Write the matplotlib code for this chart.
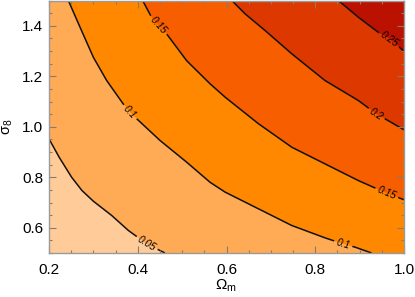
import numpy as np
import matplotlib
matplotlib.use("Agg")
import matplotlib.pyplot as plt
from matplotlib.ticker import MultipleLocator

plt.rcParams['font.family'] = ['Liberation Sans', 'DejaVu Sans']
plt.rcParams['mathtext.fontset'] = 'custom'
plt.rcParams['mathtext.rm'] = 'Liberation Sans'
plt.rcParams['mathtext.it'] = 'Liberation Sans'
plt.rcParams['mathtext.bf'] = 'Liberation Sans:bold'

# ---- data: contour levels and their line positions ----
levels = [0.05, 0.1, 0.15, 0.2, 0.25]
level_labels = ["0.05", "0.1", "0.15", "0.2", "0.25"]

om_05 = [0.200, 0.223, 0.251, 0.274, 0.300, 0.341, 0.379, 0.401, 0.420, 0.458, 0.461]
s8_05 = [0.952, 0.879, 0.800, 0.748, 0.705, 0.649, 0.589, 0.561, 0.536, 0.503, 0.500]

om_10 = [0.2436, 0.270, 0.300, 0.330, 0.367, 0.3825, 0.398, 0.450, 0.510, 0.563,
         0.597, 0.672, 0.747, 0.822, 0.863, 0.890, 0.927]
s8_10 = [1.500, 1.394, 1.275, 1.183, 1.091, 1.058, 1.031, 0.946, 0.860, 0.780,
         0.741, 0.675, 0.609, 0.560, 0.536, 0.523, 0.500]

om_15 = [0.411, 0.431, 0.446, 0.465, 0.510, 0.563, 0.597, 0.672, 0.747, 0.822,
         0.897, 0.961, 1.000]
s8_15 = [1.500, 1.434, 1.401, 1.368, 1.262, 1.170, 1.117, 1.012, 0.919, 0.853,
         0.787, 0.737, 0.711]

om_20 = [0.612, 0.642, 0.687, 0.747, 0.822, 0.897, 0.938, 1.000]
s8_20 = [1.500, 1.447, 1.381, 1.289, 1.183, 1.104, 1.051, 0.988]

om_25 = [0.852, 0.897, 0.942, 0.968, 1.000]
s8_25 = [1.500, 1.434, 1.374, 1.348, 1.299]

lines_om = [om_05, om_10, om_15, om_20, om_25]
lines_s8 = [s8_05, s8_10, s8_15, s8_20, s8_25]

# label anchor points (Omega_m, sigma_8) for each level
label_pts = [
    [(0.420, 0.536)],
    [(0.3825, 1.058), (0.863, 0.536)],
    [(0.446, 1.401), (0.961, 0.737)],
    [(0.938, 1.051)],
    [(0.968, 1.348)],
]

band_colors = ['#FFCC99', '#FFAA55', '#FF8800', '#F75E00', '#DD3800', '#BB1100']

xlim = (0.2, 1.0)
ylim = (0.5, 1.5)

fig = plt.figure(figsize=(4.15, 2.97), dpi=100)
ax = fig.add_axes([49/415, 44/297, 355/415, 252.5/297])
ax.set_xlim(*xlim)
ax.set_ylim(*ylim)

# base band
ax.fill([xlim[0], xlim[1], xlim[1], xlim[0]], [ylim[0], ylim[0], ylim[1], ylim[1]],
        color=band_colors[0], lw=0, zorder=0.1)

# each level: fill region on the upper-right side of the contour line
for k, (om, s8) in enumerate(zip(lines_om, lines_s8)):
    px = list(om)
    py = list(s8)
    if om[-1] < xlim[1] - 1e-9:  # ends on bottom edge
        px += [xlim[1]]
        py += [ylim[0]]
    if s8[0] < ylim[1] - 1e-9:  # starts on left edge
        px = [xlim[0]] + px
        py = [ylim[1]] + py
    px += [xlim[1]]
    py += [ylim[1]]
    ax.fill(px, py, color=band_colors[k + 1], lw=0, zorder=0.2 + 0.1 * k)

# contour lines with gaps for inline labels
fig.canvas.draw()
renderer = fig.canvas.get_renderer()
T = ax.transData
Ti = T.inverted()

LABEL_FS = 7.2


def point_at(P, arc, s):
    i = np.searchsorted(arc, s) - 1
    i = int(np.clip(i, 0, len(P) - 2))
    seglen = arc[i + 1] - arc[i]
    t = (s - arc[i]) / seglen if seglen > 0 else 0
    return P[i] + t * (P[i + 1] - P[i])


for k, (om, s8) in enumerate(zip(lines_om, lines_s8)):
    P = T.transform(np.column_stack([om, s8]))
    arc = np.r_[0, np.cumsum(np.hypot(*np.diff(P, axis=0).T))]
    gaps = []
    for (lo, ls) in label_pts[k]:
        c = T.transform((lo, ls))
        best = None
        for i in range(len(P) - 1):
            a, b = P[i], P[i + 1]
            d = b - a
            t = np.clip(np.dot(c - a, d) / np.dot(d, d), 0, 1)
            q = a + t * d
            dist = np.hypot(*(c - q))
            if best is None or dist < best[0]:
                best = (dist, arc[i] + t * np.hypot(*d), q)
        _, s, q = best
        # local direction over a window around the label
        pa = point_at(P, arc, max(s - 9, 0))
        pb = point_at(P, arc, min(s + 9, arc[-1]))
        d = pb - pa
        ang = np.degrees(np.arctan2(d[1], d[0]))
        if ang > 90:
            ang -= 180
        if ang < -90:
            ang += 180
        ax.text(*Ti.transform(q), level_labels[k], fontsize=LABEL_FS, style='italic',
                ha='center', va='center', rotation=ang, rotation_mode='anchor',
                zorder=3, color='black')
        tmp = ax.text(0, 0, level_labels[k], fontsize=LABEL_FS, style='italic')
        w = tmp.get_window_extent(renderer).width
        tmp.remove()
        gaps.append((s - w / 2 - 2.5, s + w / 2 + 2.5))
    gaps.sort()
    pieces = []
    start = 0.0
    for g0, g1 in gaps:
        pieces.append((start, g0))
        start = g1
    pieces.append((start, arc[-1]))
    for s0, s1 in pieces:
        if s1 <= s0:
            continue
        pts = [point_at(P, arc, s0)]
        for i in range(len(P)):
            if s0 < arc[i] < s1:
                pts.append(P[i])
        pts.append(point_at(P, arc, s1))
        D = Ti.transform(np.array(pts))
        ax.plot(D[:, 0], D[:, 1], color='#111111', lw=1.1, zorder=2,
                solid_capstyle='butt', solid_joinstyle='round')

# axes styling
ax.set_axisbelow(False)
ax.xaxis.set_minor_locator(MultipleLocator(0.05))
ax.yaxis.set_minor_locator(MultipleLocator(0.05))
ax.set_xticks([0.2, 0.4, 0.6, 0.8, 1.0])
ax.set_xticklabels(['0.2', '0.4', '0.6', '0.8', '1.0'])
ax.set_yticks([0.6, 0.8, 1.0, 1.2, 1.4])
ax.set_yticklabels(['0.6', '0.8', '1.0', '1.2', '1.4'])
ax.tick_params(which='both', direction='in', top=True, right=True, color='#8a7a6a',
               width=0.8, labelsize=11, labelcolor='black')
ax.tick_params(which='major', length=5)
ax.tick_params(which='minor', length=2.5)
ax.tick_params(axis='x', which='major', pad=7)
ax.tick_params(axis='y', which='major', pad=4)
for sp in ax.spines.values():
    sp.set_color('#9a9a9a')
    sp.set_linewidth(1.0)
    sp.set_zorder(5)

ax.set_xlabel(r'$\Omega_\mathrm{m}$', fontsize=11)
ax.set_ylabel(r'$\sigma_8$', fontsize=10.5)
ax.xaxis.set_label_coords(0.499, -0.097)
ax.yaxis.set_label_coords(-0.097, 0.5)

fig.savefig('out.png', dpi=100)
